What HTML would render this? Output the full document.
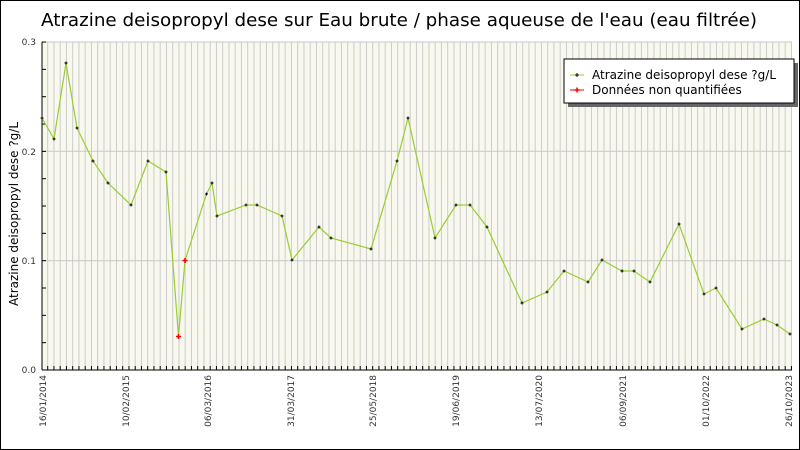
<!DOCTYPE html>
<html><head><meta charset="utf-8"><style>
html,body{margin:0;padding:0;background:#fff}
svg{display:block;font-family:"DejaVu Sans","Liberation Sans",sans-serif}
</style></head><body>
<svg width="800" height="450" viewBox="0 0 800 450" xmlns="http://www.w3.org/2000/svg">
<rect x="0.5" y="0.5" width="799" height="449" fill="#fff" stroke="#000"/>
<text x="399" y="26" font-size="18" text-anchor="middle" fill="#000" textLength="716" lengthAdjust="spacingAndGlyphs">Atrazine deisopropyl dese sur Eau brute / phase aqueuse de l'eau (eau filtrée)</text>
<rect x="42" y="42" width="750" height="328" fill="#f8f8ee"/>
<g id="vg" stroke="#cccccc" stroke-width="1"></g>
<g stroke="#c8c8c8" stroke-width="1">
<line x1="42" y1="260.7" x2="792" y2="260.7"/>
<line x1="42" y1="151.3" x2="792" y2="151.3"/>
<line x1="42" y1="42" x2="792" y2="42"/>
</g>
<line x1="42" y1="42" x2="42" y2="370" stroke="#000"/>
<line x1="42" y1="370" x2="792" y2="370" stroke="#000"/>
<g id="ticks" stroke="#000"></g>
<g font-size="9" fill="#333" text-anchor="end">
<text x="36" y="373">0.0</text><text x="36" y="264">0.1</text><text x="36" y="155">0.2</text><text x="36" y="45">0.3</text>
</g>
<text transform="translate(18,214) rotate(-90)" font-size="12" text-anchor="middle" fill="#000">Atrazine deisopropyl dese ?g/L</text>
<g font-size="9" fill="#333" text-anchor="end">
<text transform="translate(46,375) rotate(-90)">16/01/2014</text>
<text transform="translate(129,375) rotate(-90)">10/02/2015</text>
<text transform="translate(211,375) rotate(-90)">06/03/2016</text>
<text transform="translate(294,375) rotate(-90)">31/03/2017</text>
<text transform="translate(376,375) rotate(-90)">25/05/2018</text>
<text transform="translate(459,375) rotate(-90)">19/06/2019</text>
<text transform="translate(542,375) rotate(-90)">13/07/2020</text>
<text transform="translate(626,375) rotate(-90)">06/09/2021</text>
<text transform="translate(709,375) rotate(-90)">01/10/2022</text>
<text transform="translate(792,375) rotate(-90)">26/10/2023</text>
</g>
<polyline fill="none" stroke="#9acd32" stroke-width="1.2" points="42,118 54,139 66,63 77,128 93,161 108,183 131,205 148,161 166,172 178.5,336.5 185,260.5 206.5,194 212,183 217,216 246,205 257,205 282,216 292,260 319,227 331,238 371,249 397,161 408,118 435,238 456,205 470,205 487,227 522,303 547,292 564,271 588,282 602,260 622,271 634,271 650,282 679,224 704,294 716,288 742,329 764,319 777,325 790,334"/>
<g id="pts" fill="#000"></g>
<rect x="568" y="63" width="230" height="44" fill="#666"/>
<rect x="564" y="59" width="230" height="44" fill="#fff" stroke="#000"/>
<line x1="570" y1="75" x2="584" y2="75" stroke="#9acd32"/>
<path d="M575 75h4M577 73v4" stroke="#000"/>
<line x1="570" y1="90" x2="584" y2="90" stroke="#f00"/>
<path d="M574.5 90h5M577 87.5v5" stroke="#f00" stroke-width="1.5"/>
<g font-size="12" fill="#000"><text x="592" y="79">Atrazine deisopropyl dese ?g/L</text><text x="592" y="94">Données non quantifiées</text></g>
</svg>
<script>
var ns="http://www.w3.org/2000/svg";
var vg=document.getElementById("vg"),tk=document.getElementById("ticks");
for(var x=47.7;x<792;x+=6.25){var l=document.createElementNS(ns,"line");l.setAttribute("x1",x);l.setAttribute("x2",x);l.setAttribute("y1",42);l.setAttribute("y2",370);vg.appendChild(l);
var t=document.createElementNS(ns,"line");t.setAttribute("x1",x);t.setAttribute("x2",x);t.setAttribute("y1",366);t.setAttribute("y2",370);tk.appendChild(t);}
for(var i=0;i<=12;i++){var y=370-i*27.33;var t=document.createElementNS(ns,"line");t.setAttribute("x1",42);t.setAttribute("x2",46);t.setAttribute("y1",y);t.setAttribute("y2",y);tk.appendChild(t);}
var P=[[42,118],[54,139],[66,63],[77,128],[93,161],[108,183],[131,205],[148,161],[166,172],[206.5,194],[212,183],[217,216],[246,205],[257,205],[282,216],[292,260],[319,227],[331,238],[371,249],[397,161],[408,118],[435,238],[456,205],[470,205],[487,227],[522,303],[547,292],[564,271],[588,282],[602,260],[622,271],[634,271],[650,282],[679,224],[704,294],[716,288],[742,329],[764,319],[777,325],[790,334]];
var g=document.getElementById("pts");
function cross(x,y,c,s,w){var p=document.createElementNS(ns,"path");p.setAttribute("d","M"+(x-s)+" "+y+"h"+(2*s)+"M"+x+" "+(y-s)+"v"+(2*s));p.setAttribute("stroke",c);p.setAttribute("stroke-width",w);g.appendChild(p);}
P.forEach(function(p){cross(p[0],p[1],"#000",1.5,1);});
cross(178.5,336.5,"#f00",2.5,1.6);cross(185,260.5,"#f00",2.5,1.6);
</script>
</body></html>
